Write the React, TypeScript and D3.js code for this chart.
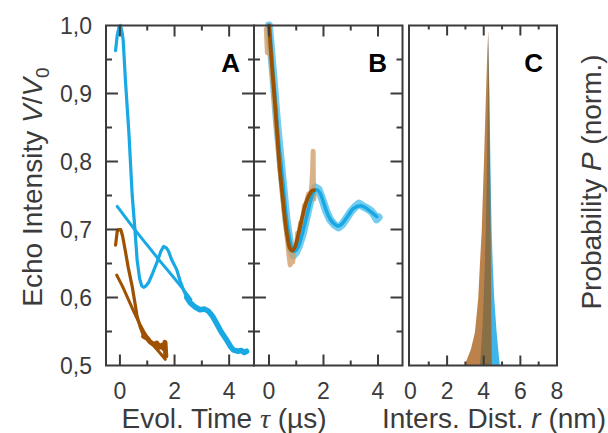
import React from "react";
import * as d3 from "d3";

type Pt = [number, number];

// Panel A: raw echo traces and their background decays (time in µs, V/V0)
const blueTraceA: Pt[] = [
  [-0.16, 0.963], [-0.1, 0.985], [-0.03, 0.998], [0.02, 1.0], [0.08, 0.99], [0.12, 0.978],
  [0.2, 0.92], [0.33, 0.841], [0.45, 0.75], [0.55, 0.7], [0.63, 0.655], [0.72, 0.628],
  [0.8, 0.617], [0.87, 0.615], [0.95, 0.617], [1.05, 0.622], [1.2, 0.636], [1.36, 0.652],
  [1.5, 0.668], [1.6, 0.675], [1.7, 0.673], [1.78, 0.668], [1.9, 0.655], [2.08, 0.641],
  [2.2, 0.625], [2.33, 0.611], [2.45, 0.6], [2.58, 0.592], [2.75, 0.586], [2.93, 0.582],
  [3.1, 0.583], [3.24, 0.58], [3.4, 0.572], [3.54, 0.562], [3.7, 0.55], [3.9, 0.538],
  [4.05, 0.528], [4.15, 0.523], [4.3, 0.521], [4.45, 0.522], [4.55, 0.519], [4.64, 0.521],
];
const blueBackgroundA: Pt[] = [
  [-0.1, 0.734], [0.5, 0.702], [1.0, 0.677], [1.5, 0.652], [2.0, 0.628], [2.3, 0.613], [2.6, 0.597],
];
const brownTraceA: Pt[] = [
  [-0.16, 0.677], [-0.12, 0.69], [-0.1, 0.697], [-0.05, 0.7], [0.03, 0.7], [0.1, 0.69],
  [0.2, 0.668], [0.3, 0.645], [0.45, 0.616], [0.55, 0.592], [0.63, 0.572], [0.75, 0.556],
  [0.87, 0.543], [1.0, 0.54], [1.1, 0.535], [1.24, 0.531], [1.35, 0.533], [1.45, 0.527],
  [1.55, 0.53], [1.6, 0.525], [1.65, 0.534], [1.68, 0.514],
];
const brownBackgroundA: Pt[] = [
  [-0.12, 0.633], [0.1, 0.616], [0.3, 0.598], [0.5, 0.58], [0.7, 0.563], [0.9, 0.548],
  [1.1, 0.536], [1.3, 0.526], [1.5, 0.517], [1.66, 0.509],
];

// Panel B: background-corrected form factors (data bands and fits)
const blueDataB: Pt[] = [
  [0.0, 1.0], [0.15, 0.93], [0.3, 0.855], [0.47, 0.785], [0.65, 0.712], [0.8, 0.672],
  [0.9, 0.662], [1.0, 0.667], [1.1, 0.676], [1.25, 0.695], [1.4, 0.722], [1.55, 0.748],
  [1.7, 0.762], [1.82, 0.759], [1.95, 0.745], [2.1, 0.727], [2.25, 0.714], [2.4, 0.707],
  [2.55, 0.703], [2.7, 0.708], [2.85, 0.717], [3.0, 0.726], [3.15, 0.733], [3.3, 0.738],
  [3.45, 0.734], [3.6, 0.731], [3.75, 0.727], [3.85, 0.722], [3.95, 0.715], [4.02, 0.718],
];
const brownDataB: Pt[] = [
  [-0.1, 0.995], [-0.06, 0.96], [0.0, 0.99], [0.08, 0.95], [0.2, 0.888], [0.3, 0.838],
  [0.4, 0.79], [0.5, 0.748], [0.6, 0.71], [0.68, 0.685], [0.74, 0.66], [0.78, 0.648],
  [0.82, 0.665], [0.87, 0.652], [0.92, 0.675], [1.0, 0.672], [1.05, 0.695], [1.1, 0.69],
  [1.16, 0.71], [1.22, 0.705], [1.3, 0.735], [1.38, 0.74], [1.45, 0.752], [1.52, 0.748],
  [1.57, 0.765], [1.6, 0.785], [1.62, 0.815], [1.63, 0.77], [1.65, 0.745],
];
const blueFitB: Pt[] = [
  [0.02, 1.0], [0.12, 0.945], [0.25, 0.88], [0.35, 0.83], [0.47, 0.785], [0.56, 0.748],
  [0.65, 0.714], [0.75, 0.688], [0.89, 0.668], [0.98, 0.669], [1.08, 0.675], [1.2, 0.69],
  [1.32, 0.709], [1.45, 0.73], [1.57, 0.748], [1.69, 0.758], [1.78, 0.758], [1.88, 0.753],
  [2.0, 0.74], [2.12, 0.726], [2.25, 0.715], [2.37, 0.709], [2.55, 0.705], [2.67, 0.708],
  [2.79, 0.714], [2.95, 0.723], [3.1, 0.731], [3.35, 0.735], [3.5, 0.733], [3.65, 0.729],
  [3.8, 0.724], [3.96, 0.719],
];
const brownFitB: Pt[] = [
  [0.0, 1.0], [0.1, 0.945], [0.22, 0.885], [0.32, 0.83], [0.4, 0.787], [0.5, 0.748],
  [0.59, 0.714], [0.68, 0.688], [0.77, 0.672], [0.86, 0.669], [0.96, 0.675], [1.05, 0.688],
  [1.14, 0.704], [1.23, 0.72], [1.32, 0.734], [1.42, 0.746], [1.51, 0.753], [1.58, 0.757],
  [1.65, 0.758],
];

// Panel C: distance distributions (r in nm, normalised P)
const blueDistR = [3.79, 3.92, 4.0, 4.06, 4.12, 4.18, 4.24, 4.26, 4.3, 4.38, 4.43, 4.49, 4.57, 4.7, 4.79, 4.88];
const blueDistP = [0, 0.1, 0.2, 0.3, 0.42, 0.6, 0.85, 0.97, 0.82, 0.55, 0.4, 0.3, 0.2, 0.1, 0.048, 0];
const brownDistR = [2.95, 3.3, 3.52, 3.7, 3.79, 3.89, 4.01, 4.12, 4.2, 4.25, 4.3, 4.38, 4.41, 4.44];
const brownDistP = [0, 0.048, 0.098, 0.197, 0.296, 0.396, 0.595, 0.794, 0.93, 0.985, 0.8, 0.4, 0.15, 0];

// Axis ticks
const echoTicks = [0.5, 0.6, 0.7, 0.8, 0.9, 1.0];
const echoMinorTicks = [0.55, 0.65, 0.75, 0.85, 0.95];
const timeTicks = [0, 2, 4];
const timeMinorTicks = [1, 3];
const distTicks = [0, 2, 4, 6, 8];
const distInnerTicks = [1, 2, 3, 4, 5, 6, 7];

const BLUE = "#18a9e4";
const BLUE_BAND = "#5cc3ef";
const BROWN = "#9e5100";
const BROWN_BAND = "#cf9f6a";
const INK = "#3b3b3b";
const FONT = "'Liberation Sans', Arial, Helvetica, sans-serif";

export default function App() {
  const W = 608;
  const H = 433;
  const top = 25.5;
  const bottom = 365.5;

  const y = d3.scaleLinear().domain([0.5, 1.0]).range([bottom, top]);
  const xA = d3.scaleLinear().domain([-0.51, 4.91]).range([106, 254]);
  const xB = d3.scaleLinear().domain([-0.55, 4.9]).range([254, 402.5]);
  const xC = d3.scaleLinear().domain([-0.08, 8]).range([409, 557]);
  const yC = d3.scaleLinear().domain([0, 1]).range([bottom, top]);

  const lineA = d3.line<Pt>().x((d) => xA(d[0])).y((d) => y(d[1]));
  const lineB = d3.line<Pt>().x((d) => xB(d[0])).y((d) => y(d[1]));
  const smoothB = d3
    .line<Pt>()
    .x((d) => xB(d[0]))
    .y((d) => y(d[1]))
    .curve(d3.curveCatmullRom.alpha(0.5));

  const distArea = d3
    .area<Pt>()
    .x((d) => xC(d[0]))
    .y0(yC(0))
    .y1((d) => yC(d[1]));
  const blueDist: Pt[] = blueDistR.map((r, i) => [r, blueDistP[i]]);
  const brownDist: Pt[] = brownDistR.map((r, i) => [r, brownDistP[i]]);

  const blueTailA = blueTraceA.filter((d) => d[0] >= 2.4);
  const brownTailA = brownTraceA.filter((d) => d[0] >= 0.85);

  const fmt = (v: number) => d3.format(".1f")(v).replace(".", ",");

  const yTickMarks = (x0: number, x1: number, key: string) => {
    const out: React.ReactNode[] = [];
    [...echoTicks, ...echoMinorTicks].forEach((v, i) => {
      if (v === 0.5 || v === 1.0) return;
      const len = echoTicks.includes(v) ? 12 : 6;
      out.push(
        <line key={`${key}l${i}`} x1={x0} x2={x0 + len} y1={y(v)} y2={y(v)} />,
        <line key={`${key}r${i}`} x1={x1} x2={x1 - len} y1={y(v)} y2={y(v)} />
      );
    });
    return out;
  };

  const xTickMarks = (
    sx: d3.ScaleLinear<number, number>,
    major: number[],
    minor: number[],
    majorLen: number,
    minorLen: number,
    key: string
  ) => {
    const out: React.ReactNode[] = [];
    major.forEach((v, i) => {
      out.push(
        <line key={`${key}Mb${i}`} x1={sx(v)} x2={sx(v)} y1={bottom} y2={bottom - majorLen} />,
        <line key={`${key}Mt${i}`} x1={sx(v)} x2={sx(v)} y1={top} y2={top + majorLen} />
      );
    });
    minor.forEach((v, i) => {
      out.push(
        <line key={`${key}mb${i}`} x1={sx(v)} x2={sx(v)} y1={bottom} y2={bottom - minorLen} />,
        <line key={`${key}mt${i}`} x1={sx(v)} x2={sx(v)} y1={top} y2={top + minorLen} />
      );
    });
    return out;
  };

  return (
    <svg
      width={W}
      height={H}
      viewBox={`0 0 ${W} ${H}`}
      style={{ position: "absolute", left: 0, top: 0, background: "#fff" }}
      fontFamily={FONT}
    >
      {/* Panel A traces */}
      <g fill="none" strokeLinecap="round" strokeLinejoin="round">
        <path d={lineA(blueBackgroundA) ?? ""} stroke={BLUE} strokeWidth={3} />
        <path d={lineA(blueTraceA) ?? ""} stroke={BLUE} strokeWidth={3.2} />
        <path d={lineA(blueTailA) ?? ""} stroke={BLUE} strokeWidth={5.5} />
        <path d={lineA(brownBackgroundA) ?? ""} stroke={BROWN} strokeWidth={3} />
        <path d={lineA(brownTraceA) ?? ""} stroke={BROWN} strokeWidth={3.2} />
        <path d={lineA(brownTailA) ?? ""} stroke={BROWN} strokeWidth={5} />
      </g>

      {/* Panel B bands and fits */}
      <g fill="none" strokeLinecap="round" strokeLinejoin="round">
        <path d={lineB(blueDataB) ?? ""} stroke={BLUE_BAND} strokeWidth={8} opacity={0.85} />
        <path d={lineB(brownDataB) ?? ""} stroke={BROWN_BAND} strokeWidth={5} opacity={0.8} />
        <path d={smoothB(blueFitB) ?? ""} stroke={BLUE} strokeWidth={3.5} />
        <path d={smoothB(brownFitB) ?? ""} stroke={BROWN} strokeWidth={3.8} />
      </g>

      {/* Panel C distributions */}
      <g>
        <path d={distArea(blueDist) ?? ""} fill="#3fb5ea" />
        <path d={distArea(brownDist) ?? ""} fill="#a3560c" fillOpacity={0.74} />
      </g>

      {/* Frames and ticks */}
      <g stroke={INK} strokeWidth={2} fill="none">
        <rect x={106} y={top} width={148} height={bottom - top} />
        <rect x={254} y={top} width={148.5} height={bottom - top} />
        <rect x={409} y={top} width={148} height={bottom - top} />
        {yTickMarks(106, 254, "A")}
        {yTickMarks(254, 402.5, "B")}
        {xTickMarks(xA, timeTicks, timeMinorTicks, 11, 5, "A")}
        {xTickMarks(xB, timeTicks, timeMinorTicks, 11, 5, "B")}
        {xTickMarks(
          xC,
          distInnerTicks.filter((v) => v % 2 === 0),
          distInnerTicks.filter((v) => v % 2 === 1),
          10,
          4,
          "C"
        )}
      </g>

      {/* Tick labels */}
      <g fill={INK} fontSize={23}>
        {echoTicks.map((v) => (
          <text key={`yl${v}`} x={92} y={y(v)} dy="0.35em" textAnchor="end">
            {fmt(v)}
          </text>
        ))}
        {timeTicks.map((v) => (
          <text key={`xa${v}`} x={xA(v)} y={399} textAnchor="middle">
            {v}
          </text>
        ))}
        {timeTicks.map((v) => (
          <text key={`xb${v}`} x={xB(v)} y={399} textAnchor="middle">
            {v}
          </text>
        ))}
        {distTicks.map((v) => (
          <text key={`xc${v}`} x={xC(v)} y={399} textAnchor="middle">
            {v}
          </text>
        ))}
      </g>

      {/* Panel letters */}
      <g fill="#000" fontSize={26} fontWeight="bold" textAnchor="end">
        <text x={240} y={71.5}>A</text>
        <text x={387} y={71.5}>B</text>
        <text x={543} y={71.5}>C</text>
      </g>

      {/* Axis titles */}
      <g fill={INK} fontSize={28}>
        <text x={224} y={428} textAnchor="middle">
          Evol. Time <tspan fontFamily="'Liberation Serif', 'Times New Roman', serif" fontStyle="italic">τ</tspan> (µs)
        </text>
        <text x={494} y={428} textAnchor="middle">
          Inters. Dist. <tspan fontStyle="italic">r</tspan> (nm)
        </text>
        <text transform="translate(41.5,187) rotate(-90)" textAnchor="middle">
          Echo Intensity <tspan fontStyle="italic">V</tspan>/<tspan fontStyle="italic">V</tspan>
          <tspan fontSize={19} dy={7}>0</tspan>
        </text>
        <text transform="translate(601,182) rotate(-90)" textAnchor="middle">
          Probability <tspan fontStyle="italic">P</tspan> (norm.)
        </text>
      </g>
    </svg>
  );
}
